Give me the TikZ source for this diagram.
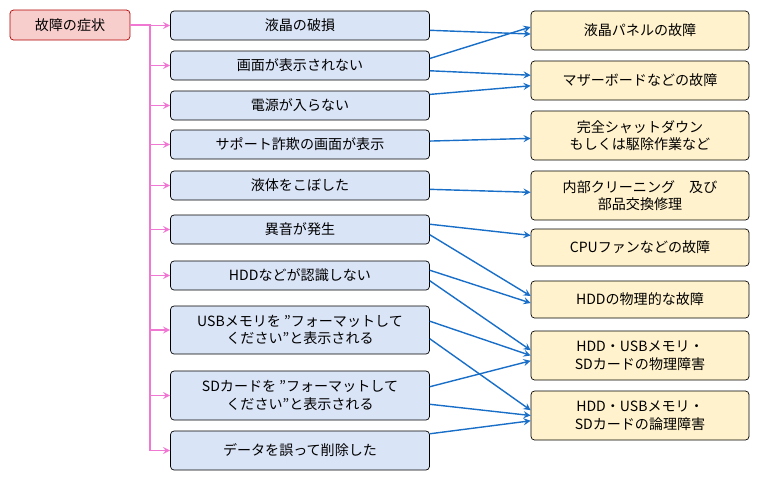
\documentclass[tikz,border=0pt]{standalone}
\usepackage{fontspec}
\setmainfont{Noto Sans CJK JP}
\definecolor{boxblue}{RGB}{218,228,247}
\definecolor{boxyellow}{RGB}{255,242,204}
\definecolor{rootpink}{RGB}{248,206,204}
\definecolor{linkblue}{RGB}{25,110,200}
\definecolor{linkpink}{RGB}{240,120,210}
\begin{document}
\begin{tikzpicture}[x=0.02cm, y=-0.02cm, font=\fontsize{8}{10}\selectfont,
  cause/.style={draw, rounded corners=2pt, fill=boxblue, align=center, minimum width=5.18cm},
  fix/.style={draw, rounded corners=2pt, fill=boxyellow, align=center, minimum width=4.36cm},
  pink/.style={->, >=stealth, linkpink, thick},
  blue/.style={->, >=stealth, linkblue, thick}]
\useasboundingbox (0,0) rectangle (761,481);
\node (root) [draw=red!70!black, rounded corners=2pt, fill=rootpink, minimum width=2.4cm, minimum height=0.6cm] at (70,25) {故障の症状};

\node (c1) [cause, minimum height=0.58cm] at (300,25.5) {液晶の破損};
\node (c2) [cause, minimum height=0.58cm] at (300,65.5) {画面が表示されない};
\node (c3) [cause, minimum height=0.58cm] at (300,105.5) {電源が入らない};
\node (c4) [cause, minimum height=0.58cm] at (300,144.5) {サポート詐欺の画面が表示};
\node (c5) [cause, minimum height=0.58cm] at (300,185.5) {液体をこぼした};
\node (c6) [cause, minimum height=0.58cm] at (300,229.5) {異音が発生};
\node (c7) [cause, minimum height=0.58cm] at (300,275.5) {HDDなどが認識しない};
\node (c8) [cause, minimum height=0.96cm] at (300,330) {USBメモリを ”フォーマットして\\ください”と表示される};
\node (c9) [cause, minimum height=0.98cm] at (300,395.5) {SDカードを ”フォーマットして\\ください”と表示される};
\node (c10) [cause, minimum height=0.78cm] at (300,450.5) {データを誤って削除した};

\node (f1) [fix, minimum height=0.78cm] at (640,30.5) {液晶パネルの故障};
\node (f2) [fix, minimum height=0.78cm] at (640,80.5) {マザーボードなどの故障};
\node (f3) [fix, minimum height=0.98cm] at (640,135.5) {完全シャットダウン\\もしくは駆除作業など};
\node (f4) [fix, minimum height=0.98cm] at (640,195.5) {内部クリーニング　及び\\部品交換修理};
\node (f5) [fix, minimum height=0.74cm] at (640,247.5) {CPUファンなどの故障};
\node (f6) [fix, minimum height=0.74cm] at (640,299.5) {HDDの物理的な故障};
\node (f7) [fix, minimum height=0.98cm] at (640,355.5) {HDD・USBメモリ・\\SDカードの物理障害};
\node (f8) [fix, minimum height=0.98cm] at (640,415.5) {HDD・USBメモリ・\\SDカードの論理障害};

\coordinate (trunk) at (150,25);
\draw [linkpink, thick] (root) -- (trunk) -- (trunk |- c10);
\foreach \c in {c1,c2,c3,c4,c5,c6,c7,c8,c9,c10}
  \draw [pink] (trunk |- \c) -- (\c);

\draw [blue] (c1) -- ([yshift=-2pt]f1.west);
\draw [blue] ([yshift=4pt]c2.east) -- ([yshift=2pt]f1.west);
\draw [blue] ([yshift=-3pt]c2.east) -- ([yshift=3pt]f2.west);
\draw [blue] (c3) -- ([yshift=-3pt]f2.west);
\draw [blue] (c4) -- (f3);
\draw [blue] (c5) -- (f4);
\draw [blue] ([yshift=3pt]c6.east) -- (f5);
\draw [blue] ([yshift=-3pt]c6.east) -- ([yshift=2pt]f6.west);
\draw [blue] ([yshift=3pt]c7.east) -- ([yshift=-2pt]f6.west);
\draw [blue] ([yshift=-3pt]c7.east) -- ([yshift=3pt]f7.west);
\draw [blue] ([yshift=5pt]c8.east) -- ([yshift=0pt]f7.west);
\draw [blue] ([yshift=-5pt]c8.east) -- ([yshift=3pt]f8.west);
\draw [blue] ([yshift=5pt]c9.east) -- ([yshift=-3pt]f7.west);
\draw [blue] ([yshift=-5pt]c9.east) -- ([yshift=0pt]f8.west);
\draw [blue] (c10) -- ([yshift=-3pt]f8.west);
\end{tikzpicture}
\end{document}
